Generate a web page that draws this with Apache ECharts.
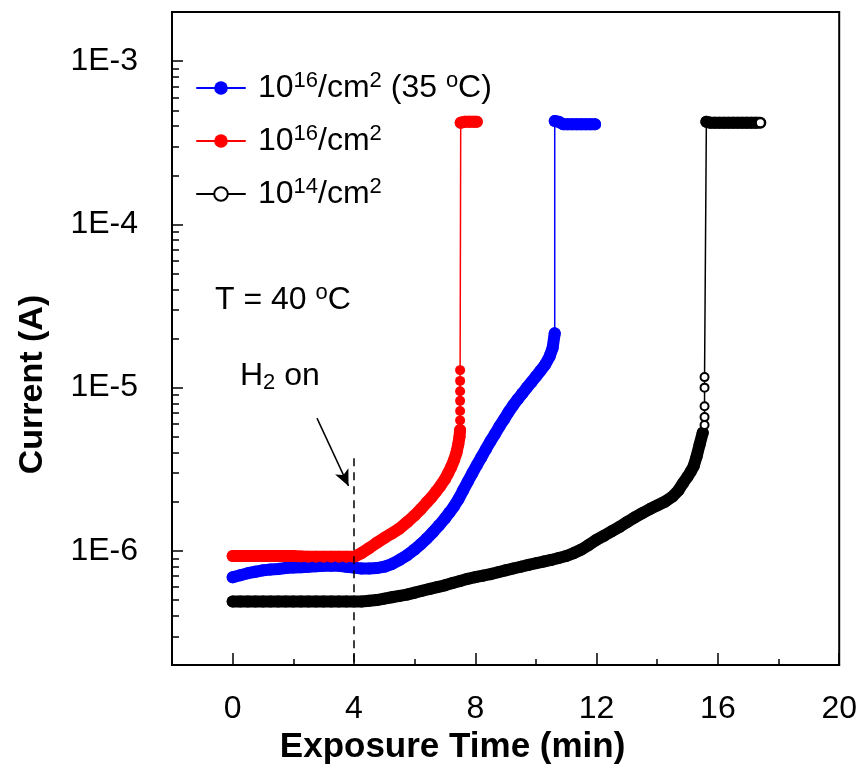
<!DOCTYPE html>
<html>
<head>
<meta charset="utf-8">
<title>Current vs exposure time</title>
<script src="https://cdn.jsdelivr.net/npm/echarts@6/dist/echarts.min.js"></script>
<style>
  html, body { margin: 0; padding: 0; background: #fff; }
  #main { width: 860px; height: 773px; }
</style>
</head>
<body>
<div id="main"></div>
<script>
// axis ticks
var xMajorTicks = [0, 4, 8, 12, 16, 20];
var xMinorTicks = [2, 6, 10, 14, 18];
var yMin = 2e-7, yMax = 2e-3;

// 10^16/cm2 (35 oC) - blue, current in uA
var blueT = [0, 0.25, 0.5, 0.75, 1, 1.25, 1.5, 1.75, 2, 2.25, 2.5, 2.75, 3, 3.25, 3.5, 3.75, 4, 4.25, 4.5, 4.75,
  5, 5.25, 5.5, 5.75, 6, 6.2, 6.4, 6.6, 6.8, 7, 7.15, 7.3, 7.45, 7.6, 7.75, 7.9, 8.05, 8.2, 8.35, 8.5,
  8.65, 8.8, 8.95, 9.1, 9.25, 9.4, 9.55, 9.7, 9.85, 10, 10.15, 10.3, 10.45, 10.55, 10.62];
var blueI = [0.69, 0.71, 0.73, 0.745, 0.76, 0.77, 0.775, 0.785, 0.79, 0.795, 0.8, 0.805, 0.81, 0.81, 0.81, 0.8, 0.79, 0.78, 0.78, 0.785,
  0.8, 0.83, 0.88, 0.94, 1.02, 1.1, 1.19, 1.3, 1.43, 1.58, 1.72, 1.88, 2.08, 2.35, 2.65, 2.98, 3.35, 3.75, 4.2, 4.7,
  5.2, 5.8, 6.4, 7.1, 7.8, 8.5, 9.2, 10.0, 10.8, 11.7, 12.7, 13.8, 15.5, 17.5, 21.5];
var blueTopT = [10.62, 10.75, 10.9, 11.05, 11.2, 11.35, 11.5, 11.65, 11.8, 11.95];
var blueTopI = [430, 425, 410, 410, 410, 410, 410, 410, 410, 410];

// 10^16/cm2 - red
var redT = [0, 0.25, 0.5, 0.75, 1, 1.25, 1.5, 1.75, 2, 2.25, 2.5, 2.75, 3, 3.25, 3.5, 3.75, 4,
  4.25, 4.5, 4.75, 5, 5.25, 5.5, 5.75, 6, 6.2, 6.4, 6.55, 6.7, 6.85, 7, 7.1, 7.2, 7.3, 7.38, 7.44, 7.48, 7.5];
var redI = [0.93, 0.93, 0.93, 0.93, 0.93, 0.93, 0.93, 0.93, 0.93, 0.925, 0.92, 0.92, 0.92, 0.92, 0.92, 0.92, 0.92,
  0.97, 1.04, 1.12, 1.2, 1.28, 1.37, 1.5, 1.65, 1.8, 1.98, 2.12, 2.3, 2.5, 2.75, 2.98, 3.25, 3.6, 4.0, 4.5, 5.0, 5.5];
var redStepT = [7.5, 7.5, 7.5, 7.5, 7.5, 7.5];
var redStepI = [6.3, 7.2, 8.3, 9.5, 11, 12.8];
var redTopT = [7.52, 7.65, 7.8, 7.95, 8.05];
var redTopI = [420, 425, 425, 425, 425];

// 10^14/cm2 - black
var blackT = [0, 0.25, 0.5, 0.75, 1, 1.25, 1.5, 1.75, 2, 2.25, 2.5, 2.75, 3, 3.25, 3.5, 3.75, 4,
  4.25, 4.5, 4.75, 5, 5.25, 5.5, 5.75, 6, 6.25, 6.5, 6.75, 7, 7.25, 7.5, 7.75, 8, 8.25, 8.5, 8.75,
  9, 9.25, 9.5, 9.75, 10, 10.25, 10.5, 10.75, 11, 11.25, 11.5, 11.75, 12, 12.25, 12.5, 12.75,
  13, 13.25, 13.5, 13.75, 14, 14.25, 14.5, 14.7, 14.85, 15, 15.1, 15.2, 15.3, 15.4, 15.5];
var blackI = [0.49, 0.49, 0.49, 0.49, 0.49, 0.49, 0.49, 0.49, 0.49, 0.49, 0.49, 0.49, 0.49, 0.49, 0.49, 0.49, 0.49,
  0.49, 0.495, 0.5, 0.51, 0.52, 0.53, 0.54, 0.555, 0.57, 0.585, 0.6, 0.615, 0.635, 0.655, 0.675, 0.69, 0.705, 0.72, 0.74,
  0.76, 0.78, 0.8, 0.82, 0.84, 0.86, 0.88, 0.905, 0.93, 0.97, 1.02, 1.09, 1.17, 1.24, 1.32, 1.4,
  1.5, 1.6, 1.7, 1.8, 1.9, 2.0, 2.15, 2.35, 2.6, 2.85, 3.05, 3.3, 3.8, 4.5, 5.3];
var blackStepT = [15.56, 15.56, 15.56, 15.56, 15.56];
var blackStepI = [5.9, 6.6, 7.7, 10.0, 11.6];
var blackTopT = [15.62, 15.75, 15.9, 16.05, 16.2, 16.35, 16.5, 16.65, 16.8, 16.95, 17.1, 17.25, 17.4];
var blackTopI = [425, 420, 420, 420, 420, 420, 420, 420, 420, 420, 420, 420, 420];

// annotations (data coords)
var h2OnTime = 4, h2LineTop = 3.7e-6;
var arrowFrom = [2.78, 6.5e-6], arrowTo = [3.82, 2.5e-6];

var names = ['10^16/cm^2 (35 oC)', '10^16/cm^2', '10^14/cm^2'];
var legendRich = {};
legendRich[names[0]] = '{p|}{n|10}{s|16}{n|/cm}{s|2}{n| (35 }{s|o}{n|C)}';
legendRich[names[1]] = '{p|}{n|10}{s|16}{n|/cm}{s|2}';
legendRich[names[2]] = '{p|}{n|10}{s|14}{n|/cm}{s|2}';

var FONT = "'Liberation Sans', Arial, sans-serif";

function pts(t, v, extra) {
  return t.map(function (x, k) {
    var d = { value: [x, v[k] * 1e-6] };
    if (extra) Object.assign(d, extra);
    return d;
  });
}
function ends(a, b) {
  // thin connector endpoints, no marker of their own
  return [{ value: a.value, symbol: 'none' }].concat(b || []);
}

var blueDense = pts(blueT, blueI);
var blueTop = pts(blueTopT, blueTopI);
var blueStep = [{ value: blueDense[blueDense.length - 1].value, symbol: 'none' }, { value: blueTop[0].value, symbol: 'none' }];

var redDense = pts(redT, redI);
var redTop = pts(redTopT, redTopI);
var redStep = ends(redDense[redDense.length - 1], pts(redStepT, redStepI, { symbolSize: 10 }))
  .concat([{ value: redTop[0].value, symbol: 'none' }]);

var blackDense = pts(blackT, blackI, { symbol: 'circle' });
var blackTop = pts(blackTopT, blackTopI, { symbol: 'circle' });
blackTop[blackTop.length - 1] = { value: blackTop[blackTop.length - 1].value, symbol: 'emptyCircle', symbolSize: 9 };
var blackStep = ends(blackDense[blackDense.length - 1], pts(blackStepT, blackStepI, { symbol: 'emptyCircle', symbolSize: 8 }))
  .concat([{ value: blackTop[0].value, symbol: 'none' }]);

var yMinor = [];
for (var e = -7; e <= -3; e++) {
  for (var k = 2; k <= 9; k++) {
    var v = k * Math.pow(10, e);
    if (v > yMin && v < yMax) yMinor.push(Math.log10(v));
  }
}

function band(name, color, data, symbol) {
  return {
    name: name, type: 'line', data: data, symbol: symbol || 'circle', symbolSize: 12, showSymbol: true,
    color: color, itemStyle: { color: color },
    lineStyle: { width: 12, color: color, cap: 'round', join: 'round' }
  };
}
function thin(name, color, data, symbol) {
  return {
    name: name, type: 'line', data: data, symbol: symbol || 'circle', symbolSize: 10, showSymbol: true,
    color: color, itemStyle: { color: color },
    lineStyle: { width: 1.5, color: color }
  };
}

var chart = echarts.init(document.getElementById('main'), null, { renderer: 'canvas' });
var option = {
  animation: false,
  backgroundColor: '#fff',
  textStyle: { fontFamily: FONT },
  grid: {
    left: 172, right: 15, top: 12, bottom: 108,
    show: true, borderColor: '#000', borderWidth: 2
  },
  legend: {
    orient: 'vertical',
    left: 196, top: 70, padding: 0,
    itemWidth: 48, itemHeight: 17, itemGap: 19,
    data: names,
    lineStyle: { width: 2 },
    formatter: function (n) { return legendRich[n]; },
    textStyle: {
      color: '#000', fontFamily: FONT,
      rich: {
        p: { width: 8 },
        n: { fontSize: 32, lineHeight: 36, color: '#000', fontFamily: FONT },
        s: { fontSize: 22, lineHeight: 20, verticalAlign: 'top', color: '#000', fontFamily: FONT }
      }
    }
  },
  xAxis: [{
    type: 'value', min: -2, max: 20,
    name: 'Exposure Time (min)', nameLocation: 'middle', nameGap: 62,
    nameTextStyle: { fontSize: 35, fontWeight: 'bold', color: '#000', fontFamily: FONT, padding: [0, 106, 0, 0] },
    axisLine: { onZero: false, lineStyle: { color: '#000', width: 2 } },
    axisTick: { inside: true, length: 12, customValues: xMajorTicks, lineStyle: { color: '#000', width: 1.5 } },
    axisLabel: { customValues: xMajorTicks, fontSize: 32, color: '#000', margin: 28, fontFamily: FONT },
    splitLine: { show: false }
  }, {
    type: 'value', min: -2, max: 20, position: 'bottom', offset: 0,
    axisLine: { show: false, onZero: false },
    axisTick: { inside: true, length: 6, customValues: xMinorTicks, lineStyle: { color: '#000', width: 1.5 } },
    axisLabel: { show: false },
    splitLine: { show: false }
  }],
  yAxis: [{
    type: 'log', logBase: 10, min: yMin, max: yMax, position: 'left',
    name: 'Current (A)', nameLocation: 'middle', nameGap: 122, nameRotate: 90,
    nameTextStyle: { fontSize: 34, fontWeight: 'bold', color: '#000', fontFamily: FONT, padding: [0, 92, 0, 0] },
    axisLine: { show: true, onZero: false, lineStyle: { color: '#000', width: 2 } },
    axisTick: { show: true, inside: true, length: 11, lineStyle: { color: '#000', width: 1.5 } },
    axisLabel: {
      fontSize: 32, color: '#000', margin: 34, fontFamily: FONT,
      formatter: function (val) {
        var lg = Math.log10(val), ex = Math.round(lg);
        if (Math.abs(lg - ex) > 1e-6) return '';
        return '1E' + ex;
      }
    },
    splitLine: { show: false }
  }, {
    type: 'value', min: Math.log10(yMin), max: Math.log10(yMax), position: 'left', offset: 0,
    axisLine: { show: false, onZero: false },
    axisTick: { show: true, inside: true, length: 7, customValues: yMinor, lineStyle: { color: '#000', width: 1.5 } },
    axisLabel: { show: false },
    splitLine: { show: false }
  }],
  graphic: [{
    type: 'text', left: 215, top: 282,
    style: {
      text: '{n|T = 40 }{s|o}{n|C}',
      rich: {
        n: { fontSize: 32, lineHeight: 36, fill: '#000', fontFamily: FONT },
        s: { fontSize: 22, lineHeight: 20, verticalAlign: 'top', fill: '#000', fontFamily: FONT }
      }
    }
  }, {
    type: 'text', left: 240, top: 360,
    style: {
      text: '{n|H}{b|2}{n| on}',
      rich: {
        n: { fontSize: 32, lineHeight: 36, fill: '#000', fontFamily: FONT },
        b: { fontSize: 22, lineHeight: 22, verticalAlign: 'bottom', fill: '#000', fontFamily: FONT }
      }
    }
  }],
  series: [
    band(names[0], '#0000ff', blueDense),
    thin(names[0], '#0000ff', blueStep),
    band(names[0], '#0000ff', blueTop),
    band(names[1], '#ff0000', redDense),
    thin(names[1], '#ff0000', redStep),
    band(names[1], '#ff0000', redTop),
    band(names[2], '#000000', blackDense, 'emptyCircle'),
    thin(names[2], '#000000', blackStep, 'emptyCircle'),
    band(names[2], '#000000', blackTop, 'emptyCircle'),
    {
      name: 'annotations', type: 'line', data: [], silent: true,
      markLine: {
        silent: true, animation: false,
        label: { show: false },
        data: [
          [{ coord: [h2OnTime, h2LineTop], symbol: 'none', lineStyle: { type: [8, 6], color: '#000', width: 1.5 } },
           { coord: [h2OnTime, yMin], symbol: 'none' }],
          [{ coord: arrowFrom, symbol: 'none', lineStyle: { type: 'solid', color: '#000', width: 1.5 } },
           { coord: arrowTo, symbol: 'arrow', symbolSize: [11, 16] }]
        ]
      }
    }
  ]
};
chart.setOption(option);
</script>
</body>
</html>
